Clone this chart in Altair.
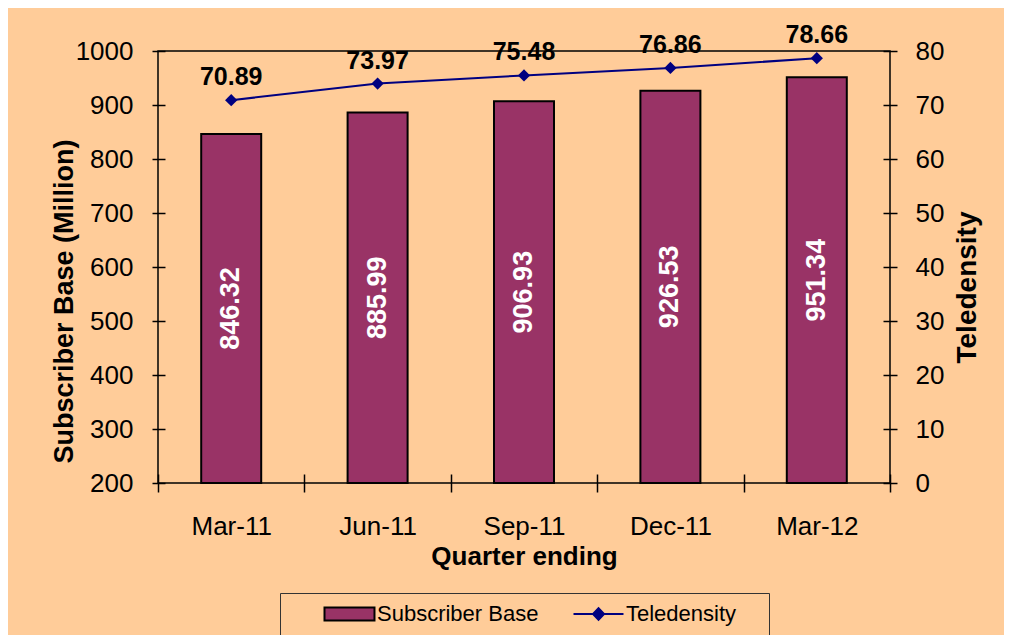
import altair as alt
import pandas as pd

quarters = ["Mar-11", "Jun-11", "Sep-11", "Dec-11", "Mar-12"]
subscribers = [846.32, 885.99, 906.93, 926.53, 951.34]
teledensity = [70.89, 73.97, 75.48, 76.86, 78.66]
series_names = ["Subscriber Base", "Teledensity"]
left_ticks = [200, 300, 400, 500, 600, 700, 800, 900, 1000]
right_ticks = [0, 10, 20, 30, 40, 50, 60, 70, 80]

FONT = "Liberation Sans"
MAROON = "#993366"
NAVY = "#000080"

df = pd.DataFrame({"quarter": quarters, "subs": subscribers, "tele": teledensity})
legend_df = pd.DataFrame({"series": series_names})

x_axis = alt.Axis(title="Quarter ending", labelAngle=0, tickBand="extent", offset=-9,
                  tickSize=18, domain=False, labelPadding=21, titlePadding=4,
                  labelFontSize=26, titleFontSize=26)
x_enc = alt.X("quarter:N", sort=quarters,
              scale=alt.Scale(paddingInner=0, paddingOuter=0), axis=x_axis)

left_axis = alt.Axis(orient="left", values=left_ticks, format="d",
                     title="Subscriber Base (Million)", titleFontSize=27, titleY=250,
                     offset=-7, tickSize=13, labelPadding=19, labelFontSize=26,
                     domain=False, titlePadding=-3, grid=False, labelFlush=False,
                     labelOverlap=False)
left_scale = alt.Scale(domain=[200, 1000], zero=False, nice=False)

right_axis = alt.Axis(orient="right", values=right_ticks, title="Teledensity",
                      titleFontSize=28, titleAngle=270, titleBaseline="top", titleY=236,
                      offset=-7, tickSize=14, labelPadding=18, labelFontSize=26,
                      domain=False, titlePadding=10, grid=False, labelFlush=False,
                      labelOverlap=False)
right_scale = alt.Scale(domain=[0, 80], nice=False)

base = alt.Chart(df)

bars = base.mark_bar(size=60, fill=MAROON, stroke="#000000", strokeWidth=2).encode(
    x=x_enc,
    y=alt.Y("subs:Q", scale=left_scale, axis=left_axis),
    y2=alt.datum(200),
)

bar_text = base.transform_calculate(mid="(datum.subs + 200) / 2").mark_text(
    angle=270, color="white", fontWeight="bold", fontSize=27, font=FONT,
    align="center", baseline="middle"
).encode(
    x=x_enc,
    y=alt.Y("mid:Q", scale=left_scale, axis=left_axis),
    text=alt.Text("subs:Q", format=".2f"),
)

left = alt.layer(bars, bar_text)

line = base.mark_line(color=NAVY, strokeWidth=2).encode(
    x=x_enc,
    y=alt.Y("tele:Q", scale=right_scale, axis=right_axis),
)
points = base.mark_point(shape="diamond", filled=True, size=150, color=NAVY, opacity=1).encode(
    x=x_enc,
    y=alt.Y("tele:Q", scale=right_scale, axis=right_axis),
)
point_text = base.mark_text(dy=-23, fontSize=25, fontWeight="bold", font=FONT,
                            color="#000000").encode(
    x=x_enc,
    y=alt.Y("tele:Q", scale=right_scale, axis=right_axis),
    text=alt.Text("tele:Q", format=".2f"),
)

rect_path = "M-1,-1L6.69,-1L6.69,1L-1,1Z"
line_path = "M-1,0L6.69,0M2.85,-0.9L3.7,0L2.85,0.9L2,0Z"

leg = alt.Legend(orient="none", legendX=122, legendY=542, direction="horizontal",
                 title="M", titleOrient="left", titleFontSize=21, titlePadding=12,
                 titleOpacity=0,
                 padding=10, strokeColor="#333333", symbolSize=169,
                 symbolStrokeWidth=2, labelOffset=35, columnPadding=30,
                 labelFont=FONT, labelFontSize=22, labelColor="#000000", labelLimit=400,
                 labelExpr="datum.label == 'Teledensity' ? 'Teledensity\u00a0\u2800' : datum.label")

legend_layer = alt.Chart(legend_df).transform_filter("false").mark_point(
    filled=True, opacity=1
).encode(
    fill=alt.Fill("series:N", scale=alt.Scale(domain=series_names, range=[MAROON, NAVY]), legend=leg),
    stroke=alt.Stroke("series:N", scale=alt.Scale(domain=series_names, range=["#000000", NAVY]), legend=leg),
    shape=alt.Shape("series:N", scale=alt.Scale(domain=series_names, range=[rect_path, line_path]), legend=leg),
)

right = alt.layer(line, points, point_text, legend_layer)

chart = alt.layer(left, right).resolve_scale(y="independent").properties(
    width=732, height=432, background="#FFCC99",
    padding={"left": 150, "top": 43, "right": 114, "bottom": 152},
    autosize=alt.AutoSizeParams(type="none"),
).configure_view(
    fill="#FDF6E3", stroke="#000000", strokeWidth=1.5
).configure_axis(
    labelFont=FONT, titleFont=FONT, labelColor="#000000", titleColor="#000000",
    tickColor="#000000", tickWidth=1.5, titleFontWeight="bold"
)

chart.save("out.html", embed_options={"renderer": "svg", "actions": False})
